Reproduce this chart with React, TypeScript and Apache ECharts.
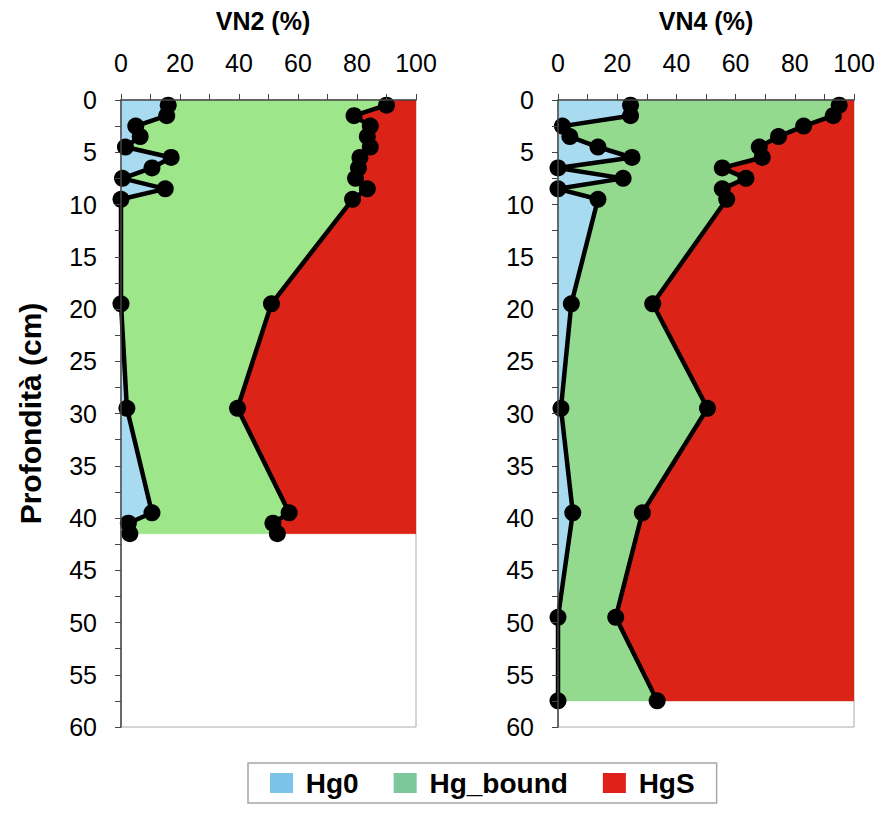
import React, { useEffect, useRef } from 'react';
import * as echarts from 'echarts';

// ---- Data (percent of total Hg, by depth in cm) ----
const depthVN2 = [0.5, 1.5, 2.5, 3.5, 4.5, 5.5, 6.5, 7.5, 8.5, 9.5, 19.5, 29.5, 39.5, 40.5, 41.5];
const hg0VN2 = [16, 15.5, 5, 6.5, 1.5, 17, 10.5, 0.5, 15, 0, 0, 2, 10.5, 2.5, 3];
const hgBoundVN2 = [74, 63.5, 79.5, 77, 83, 64, 70, 79, 68.5, 78.5, 51, 37.5, 46.5, 49, 50];

const depthVN4 = [0.5, 1.5, 2.5, 3.5, 4.5, 5.5, 6.5, 7.5, 8.5, 9.5, 19.5, 29.5, 39.5, 49.5, 57.5];
const hg0VN4 = [24.5, 24.5, 1.5, 4, 13.5, 25, 0, 22, 0, 13.5, 4.5, 1, 5, 0, 0];
const hgBoundVN4 = [70.5, 68.5, 81.5, 70.5, 54.5, 44, 55.5, 41.5, 55.5, 43.5, 27.5, 49.5, 23.5, 19.5, 33.5];

const panelTitles = ['VN2 (%)', 'VN4 (%)'];
const legendNames = ['Hg0', 'Hg_bound', 'HgS'];
const yAxisName = 'Profondità (cm)';

const surfaceDepth = 0;
const pctMin = 0;
const pctMax = 100;
const depthMin = 0;
const depthMax = 60;

const FONT = "'Liberation Sans', Arial, Helvetica, sans-serif";
const BLUE = '#A8DAF0';
const GREEN_VN2 = '#9DE68A';
const GREEN_VN4 = '#93D98E';
const RED = '#DC2318';
const LEGEND_COLORS = ['#7CC3EA', '#7CC79C', '#E0211B'];

function cumulative(a: number[], b: number[]) {
  return a.map((v, i) => v + b[i]);
}

function fillSeries(
  name: string,
  idx: number,
  depths: number[],
  leftVals: number[],
  rightVals: number[],
  fill: string,
  legendColor: string
) {
  return {
    type: 'custom',
    name,
    xAxisIndex: idx,
    yAxisIndex: idx,
    z: 1,
    clip: true,
    silent: true,
    itemStyle: { color: legendColor },
    data: [[leftVals[0], depths[0]]],
    renderItem: (_params: any, api: any) => {
      const pts: number[][] = [api.coord([leftVals[0], surfaceDepth])];
      for (let i = 0; i < depths.length; i++) pts.push(api.coord([leftVals[i], depths[i]]));
      for (let i = depths.length - 1; i >= 0; i--) pts.push(api.coord([rightVals[i], depths[i]]));
      pts.push(api.coord([rightVals[0], surfaceDepth]));
      return {
        type: 'polygon',
        shape: { points: pts },
        style: { fill, stroke: fill, lineWidth: 0.5 },
      };
    },
  };
}

function lineSeries(name: string, idx: number, depths: number[], vals: number[]) {
  return {
    type: 'line',
    name,
    xAxisIndex: idx,
    yAxisIndex: idx,
    z: 3,
    data: depths.map((d, i) => [vals[i], d]),
    symbol: 'circle',
    symbolSize: 17,
    showSymbol: true,
    lineStyle: { color: '#000', width: 4.5 },
    itemStyle: { color: '#000' },
    silent: true,
  };
}

function panelSeries(idx: number, depths: number[], hg0: number[], bound: number[], green: string) {
  const line1 = hg0;
  const line2 = cumulative(hg0, bound);
  const zeros = depths.map(() => pctMin);
  const full = depths.map(() => pctMax);
  return [
    fillSeries(legendNames[0], idx, depths, zeros, line1, BLUE, LEGEND_COLORS[0]),
    fillSeries(legendNames[1], idx, depths, line1, line2, green, LEGEND_COLORS[1]),
    fillSeries(legendNames[2], idx, depths, line2, full, RED, LEGEND_COLORS[2]),
    lineSeries('line1_' + idx, idx, depths, line1),
    lineSeries('line2_' + idx, idx, depths, line2),
  ];
}

function xAxis(idx: number) {
  return {
    type: 'value',
    gridIndex: idx,
    position: 'top',
    min: pctMin,
    max: pctMax,
    interval: 20,
    z: 5,
    axisLine: { show: true, lineStyle: { color: '#444', width: 1.5 } },
    axisTick: { show: true, length: 6, lineStyle: { color: '#444' } },
    minorTick: { show: true, splitNumber: 2, length: 6, lineStyle: { color: '#444' } },
    splitLine: { show: false },
    axisLabel: { fontSize: 25, color: '#000', fontFamily: FONT, margin: 25 },
  };
}

function yAxis(idx: number) {
  const ax: any = {
    type: 'value',
    gridIndex: idx,
    inverse: true,
    min: depthMin,
    max: depthMax,
    interval: 5,
    z: 5,
    axisLine: { show: true, lineStyle: { color: '#444', width: 1.5 } },
    axisTick: { show: true, length: 6, lineStyle: { color: '#444' } },
    minorTick: { show: true, splitNumber: 2, length: 6, lineStyle: { color: '#444' } },
    splitLine: { show: false },
    axisLabel: { fontSize: 25, color: '#000', fontFamily: FONT, margin: 24 },
  };
  if (idx === 0) {
    ax.name = yAxisName;
    ax.nameLocation = 'middle';
    ax.nameRotate = 90;
    ax.nameGap = 76;
    ax.nameTextStyle = { fontSize: 30, fontWeight: 'bold', color: '#000', fontFamily: FONT };
  }
  return ax;
}

export default function App() {
  const ref = useRef<HTMLDivElement>(null);
  useEffect(() => {
    if (!ref.current) return;
    const chart = echarts.init(ref.current, null, { renderer: 'svg' });
    const option: any = {
      animation: false,
      backgroundColor: '#fff',
      title: [
        {
          text: panelTitles[0],
          left: 258,
          top: 3,
          textAlign: 'center',
          textStyle: { fontSize: 25, fontWeight: 'bold', color: '#000', fontFamily: FONT },
        },
        {
          text: panelTitles[1],
          left: 701,
          top: 3,
          textAlign: 'center',
          textStyle: { fontSize: 25, fontWeight: 'bold', color: '#000', fontFamily: FONT },
        },
      ],
      legend: {
        data: legendNames,
        left: 248,
        top: 763,
        orient: 'horizontal',
        padding: [6, 22, 6, 22],
        itemGap: 35,
        itemWidth: 23,
        itemHeight: 20,
        icon: 'rect',
        selectedMode: false,
        borderColor: '#a6a6a6',
        borderWidth: 1.5,
        itemStyle: { borderWidth: 0 },
        formatter: (n: string) => ' ' + n,
        textStyle: { fontSize: 28, fontWeight: 'bold', color: '#000', fontFamily: FONT },
      },
      grid: [
        { left: 121, top: 100, width: 295, height: 627, show: true, borderColor: '#aaa', borderWidth: 1, backgroundColor: 'transparent' },
        { left: 558, top: 100, width: 296, height: 627, show: true, borderColor: '#aaa', borderWidth: 1, backgroundColor: 'transparent' },
      ],
      xAxis: [xAxis(0), xAxis(1)],
      yAxis: [yAxis(0), yAxis(1)],
      series: [
        ...panelSeries(0, depthVN2, hg0VN2, hgBoundVN2, GREEN_VN2),
        ...panelSeries(1, depthVN4, hg0VN4, hgBoundVN4, GREEN_VN4),
      ],
    };
    chart.setOption(option);
    return () => chart.dispose();
  }, []);
  return (
    <div
      ref={ref}
      style={{ position: 'fixed', left: 0, top: 0, width: 882, height: 817, background: '#fff' }}
    />
  );
}
